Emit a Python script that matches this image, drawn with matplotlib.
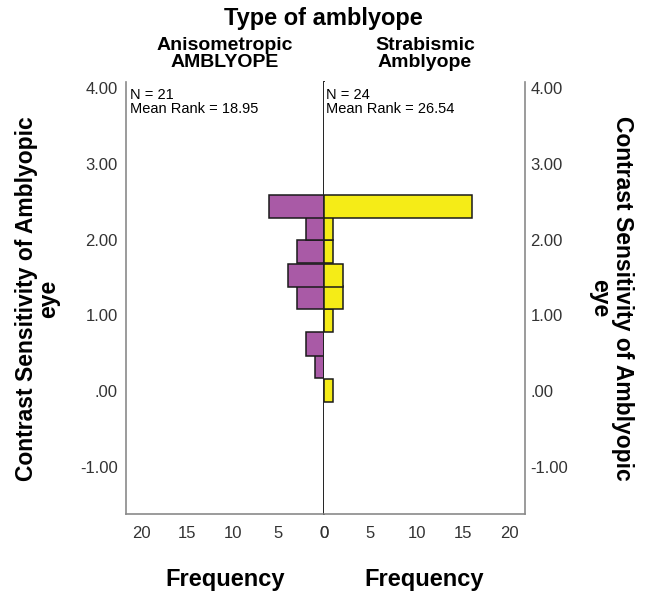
import matplotlib
matplotlib.use("Agg")
import matplotlib.pyplot as plt
import numpy as np

plt.rcParams["font.family"] = ["Liberation Sans", "DejaVu Sans"]

# histogram bins (lower edges) of contrast sensitivity
bin_low = [-0.14, 0.17, 0.47, 0.78, 1.08, 1.38, 1.69, 1.99, 2.29]
bin_h = 0.305
aniso_counts = [0, 1, 2, 0, 3, 4, 3, 2, 6]
strab_counts = [1, 0, 0, 1, 2, 2, 1, 1, 16]

group_titles = ["Anisometropic\nAMBLYOPE", "Strabismic\nAmblyope"]
group_stats = ["N = 21\nMean Rank = 18.95", "N = 24\nMean Rank = 26.54"]
yticks = [-1, 0, 1, 2, 3, 4]
ytick_labels = ["-1.00", ".00", "1.00", "2.00", "3.00", "4.00"]
xticks = [0, 5, 10, 15, 20]

PURPLE = "#a95aa6"
YELLOW = "#f5ec17"
GRAY = "#8a8a8a"
TXT = "#333333"

fig = plt.figure(figsize=(6.45, 5.92), dpi=100)
W, H = 645, 592
left_px, mid_px, right_px = 126, 324, 525
top_px, bot_px = 82, 514
b = 1 - bot_px / H
h = (bot_px - top_px) / H
axL = fig.add_axes([left_px / W, b, (mid_px - left_px) / W, h])
axR = fig.add_axes([mid_px / W, b, (right_px - mid_px) / W, h])

ylim = (-1.62, 4.08)
xmax = 21.7


def draw(ax, counts, color):
    low = np.array(bin_low)
    c = np.array(counts)
    m = c > 0
    ax.barh(low[m], c[m], height=bin_h, align="edge", color=color,
            edgecolor="#1a1a1a", linewidth=1.1, zorder=2)
    ax.set_ylim(*ylim)
    ax.set_xticks(xticks)
    ax.set_xticklabels([str(t) for t in xticks], fontsize=12, color=TXT)
    ax.tick_params(axis="x", length=0, pad=9)
    ax.spines["top"].set_visible(False)
    for s in ("left", "right", "bottom"):
        ax.spines[s].set_color(GRAY)
        ax.spines[s].set_linewidth(1.2)
    ax.set_xlabel("Frequency", fontsize=17, fontweight="bold", labelpad=19)


draw(axL, aniso_counts, PURPLE)
axL.set_xlim(xmax, 0)
axL.set_yticks(yticks)
axL.set_yticklabels(ytick_labels, fontsize=12, color=TXT)
axL.tick_params(axis="y", length=0, pad=6)
axL.spines["right"].set_color("#222222")
axL.spines["right"].set_linewidth(1.4)
axL.spines["right"].set_zorder(3)

draw(axR, strab_counts, YELLOW)
axR.set_xlim(0, xmax)
axR.spines["left"].set_visible(False)
axR.yaxis.tick_right()
axR.set_yticks(yticks)
axR.set_yticklabels(ytick_labels, fontsize=12, color=TXT)
axR.tick_params(axis="y", length=0, pad=4)

for ax, txt in zip((axL, axR), group_stats):
    ax.text(0.02 if ax is axL else 0.01, 0.985, txt, transform=ax.transAxes,
            ha="left", va="top", fontsize=10.5, linespacing=0.95)

ylab = "Contrast Sensitivity of Amblyopic\neye"
fig.text(38 / W, 1 - 299 / H, ylab, rotation=90, ha="center", va="center",
         fontsize=16.5, fontweight="bold", linespacing=0.95)
fig.text(611 / W, 1 - 298 / H, ylab, rotation=-90, ha="center", va="center",
         fontsize=16.5, fontweight="bold", linespacing=0.95)

fig.text(323 / W, 1 - 19 / H, "Type of amblyope", ha="center", va="center",
         fontsize=17, fontweight="bold")
fig.text(225 / W, 1 - 54 / H, group_titles[0], ha="center", va="center",
         fontsize=14, fontweight="bold", linespacing=1.0)
fig.text(425 / W, 1 - 54 / H, group_titles[1], ha="center", va="center",
         fontsize=14, fontweight="bold", linespacing=1.0)

fig.savefig("out.png", dpi=100)
